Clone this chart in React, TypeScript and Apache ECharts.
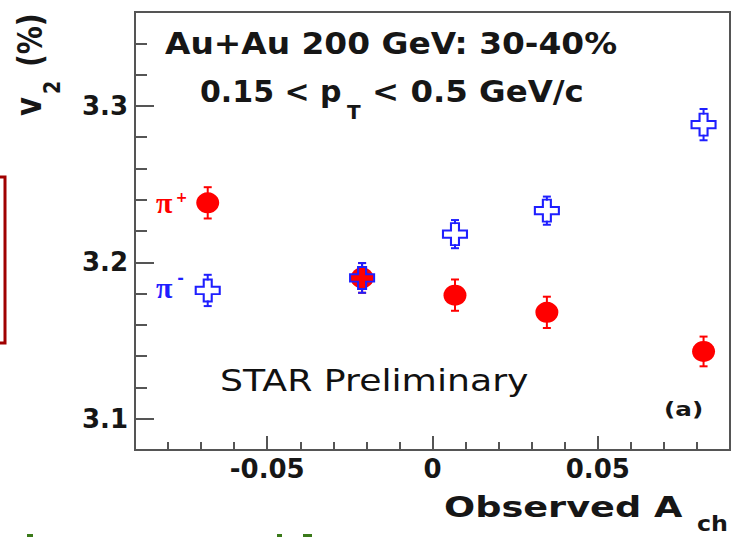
import React, { useEffect, useRef } from 'react';
import * as echarts from 'echarts';

// ---- data ----
const achBins = [-0.068, -0.0213, 0.0068, 0.0346, 0.082];
const piPlusV2 = [3.238, 3.19, 3.179, 3.168, 3.143];
const piPlusErr = [0.01, 0.0095, 0.01, 0.01, 0.0095];
const piMinusV2 = [3.182, 3.19, 3.218, 3.233, 3.288];
const piMinusErr = [0.01, 0.0095, 0.009, 0.009, 0.01];
const xTickLabels = [-0.05, 0, 0.05];
const yTickLabels = [3.1, 3.2, 3.3];
const xRange = [-0.09, 0.09];
const yRange = [3.08, 3.36];

const RED = '#ff0000';
const BLUE = '#1f1fff';
const AXIS = '#555555';
const TXT = '#161616';
const CROSS = 'path://M8,0L16,0L16,8L24,8L24,16L16,16L16,24L8,24L8,16L0,16L0,8L8,8Z';

function errorBarSeries(name: string, values: number[], errs: number[], color: string, gap: number, z: number) {
  return {
    type: 'custom',
    name,
    z,
    data: achBins.map((x, i) => [x, values[i], errs[i]]),
    encode: { x: 0, y: 1 },
    renderItem: (params: any, api: any) => {
      const x = api.value(0);
      const y = api.value(1);
      const e = api.value(2);
      const top = api.coord([x, y + e]);
      const bot = api.coord([x, y - e]);
      const c = api.coord([x, y]);
      const style = { stroke: color, lineWidth: 2 };
      const cap = 4;
      return {
        type: 'group',
        children: [
          { type: 'line', shape: { x1: c[0], y1: top[1], x2: c[0], y2: c[1] - gap }, style },
          { type: 'line', shape: { x1: c[0], y1: c[1] + gap, x2: c[0], y2: bot[1] }, style },
          { type: 'line', shape: { x1: c[0] - cap, y1: top[1], x2: c[0] + cap, y2: top[1] }, style },
          { type: 'line', shape: { x1: c[0] - cap, y1: bot[1], x2: c[0] + cap, y2: bot[1] }, style },
        ],
      };
    },
  };
}

function txt(text: string, x: number, y: number, size: number, opts: any = {}) {
  return {
    type: 'text',
    x,
    y,
    rotation: opts.rotation || 0,
    scaleX: opts.scaleX || 1,
    scaleY: opts.scaleY || 1,
    z: 100,
    style: {
      text,
      fill: opts.fill || TXT,
      fontSize: size,
      fontWeight: opts.weight || 'bold',
      fontFamily: opts.family || 'DejaVu Sans',
      textAlign: opts.align || 'left',
      textVerticalAlign: 'middle',
    },
  };
}

const tickFont = {
  fontFamily: 'DejaVu Sans',
  fontWeight: 'bold' as const,
  fontSize: 26,
  color: TXT,
};

export default function App() {
  const ref = useRef<HTMLDivElement>(null);

  useEffect(() => {
    if (!ref.current) return;
    const chart = echarts.init(ref.current, undefined, { renderer: 'svg' });
    const option: any = {
      animation: false,
      backgroundColor: '#ffffff',
      grid: {
        left: 135,
        right: 2,
        top: 12,
        bottom: 87,
        show: true,
        borderColor: AXIS,
        borderWidth: 2,
        outerBoundsMode: 'none',
      },
      xAxis: [
        {
          type: 'value',
          min: xRange[0],
          max: xRange[1],
          interval: 0.01,
          position: 'bottom',
          axisLine: { show: true, onZero: false, lineStyle: { color: AXIS, width: 2 } },
          axisTick: { show: true, inside: true, length: 8, lineStyle: { color: AXIS, width: 2 } },
          axisLabel: {
            show: true,
            customValues: xTickLabels,
            formatter: (v: number) => (v === 0 ? '0' : v.toFixed(2)),
            margin: 6,
            ...tickFont,
          },
          splitLine: { show: false },
        },
        {
          type: 'value',
          min: xRange[0],
          max: xRange[1],
          position: 'bottom',
          axisLine: { show: false, onZero: false },
          axisTick: { show: true, inside: true, length: 14, customValues: xTickLabels, lineStyle: { color: AXIS, width: 2 } },
          axisLabel: { show: false },
          splitLine: { show: false },
        },
      ],
      yAxis: [
        {
          type: 'value',
          min: yRange[0],
          max: yRange[1],
          interval: 0.02,
          position: 'left',
          axisLine: { show: true, onZero: false, lineStyle: { color: AXIS, width: 2 } },
          axisTick: { show: true, inside: true, length: 12, lineStyle: { color: AXIS, width: 2 } },
          axisLabel: {
            show: true,
            customValues: yTickLabels,
            formatter: (v: number) => v.toFixed(1),
            margin: 7,
            ...tickFont,
          },
          splitLine: { show: false },
        },
        {
          type: 'value',
          min: yRange[0],
          max: yRange[1],
          position: 'left',
          axisLine: { show: false, onZero: false },
          axisTick: { show: true, inside: true, length: 19, customValues: yTickLabels, lineStyle: { color: AXIS, width: 2 } },
          axisLabel: { show: false },
          splitLine: { show: false },
        },
      ],
      series: [
        errorBarSeries('pi+ err', piPlusV2, piPlusErr, RED, 9, 2),
        {
          type: 'scatter',
          name: 'π+',
          z: 3,
          symbol: 'circle',
          symbolSize: [23, 21],
          itemStyle: { color: RED, opacity: 1 },
          data: achBins.map((x, i) => [x, piPlusV2[i]]),
        },
        errorBarSeries('pi- err', piMinusV2, piMinusErr, BLUE, 10, 4),
        {
          type: 'scatter',
          name: 'π-',
          z: 5,
          symbol: CROSS,
          symbolSize: [24, 22],
          itemStyle: { color: 'rgba(0,0,0,0)', borderColor: BLUE, borderWidth: 2, opacity: 1 },
          data: achBins.map((x, i) => [x, piMinusV2[i]]),
        },
      ],
      graphic: [
        // cropped dark-red box at the left edge
        {
          type: 'polyline',
          shape: { points: [[0, 177], [5, 177], [5, 343], [0, 343]] },
          style: { stroke: '#a00000', lineWidth: 3, fill: 'none' },
        },
        // cropped green glyph fragments at the bottom edge
        { type: 'rect', shape: { x: 27, y: 534, width: 6, height: 3 }, style: { fill: '#3a7a1a' } },
        { type: 'rect', shape: { x: 277, y: 534, width: 5, height: 3 }, style: { fill: '#3a7a1a' } },
        { type: 'rect', shape: { x: 303, y: 534, width: 9, height: 3 }, style: { fill: '#3a7a1a' } },
        // titles
        txt('Au+Au 200 GeV: 30-40%', 165, 44, 30, { scaleX: 1.095 }),
        txt('0.15 < p', 200, 91, 30),
        txt('T', 347, 112, 20),
        txt('< 0.5 GeV/c', 372, 91, 30, { scaleX: 1.08 }),
        txt('STAR Preliminary', 220, 380, 31, { weight: 'normal', scaleX: 1.17, fill: '#111' }),
        txt('(a)', 664, 410, 19, { scaleX: 1.3 }),
        // x axis title
        txt('Observed A', 444, 508, 28, { scaleX: 1.31 }),
        txt('ch', 697, 523, 22, { scaleX: 1.08 }),
        // y axis title (rotated)
        txt('v', 29.5, 116, 29, { rotation: Math.PI / 2, scaleY: 1.2 }),
        txt('2', 52, 94, 19, { rotation: Math.PI / 2, scaleY: 1.2 }),
        txt('(%)', 30.5, 67, 28, { rotation: Math.PI / 2, scaleY: 1.2 }),
        // species labels
        txt('π', 156, 202, 30, { family: 'Liberation Serif', fill: RED }),
        txt('+', 181.5, 197, 14, { fill: RED, align: 'center' }),
        txt('π', 156, 287.5, 30, { family: 'Liberation Serif', fill: BLUE }),
        txt('-', 180.5, 277.5, 16, { fill: BLUE, align: 'center' }),
      ],
    };
    chart.setOption(option);
    return () => chart.dispose();
  }, []);

  return (
    <div
      ref={ref}
      style={{ position: 'absolute', left: 0, top: 0, width: 732, height: 537, background: '#fff' }}
    />
  );
}
